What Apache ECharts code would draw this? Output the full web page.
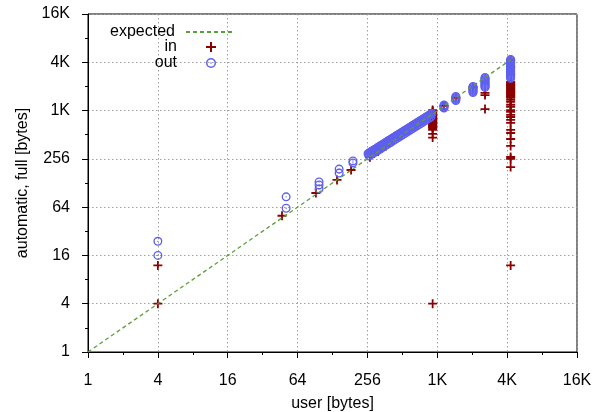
<!DOCTYPE html>
<html>
<head>
<meta charset="utf-8">
<script src="https://cdn.jsdelivr.net/npm/echarts@6/dist/echarts.min.js"></script>
<style>html,body{margin:0;padding:0;background:#fff;}#chart{width:600px;height:412px;}</style>
</head>
<body>
<div id="chart"></div>
<script>
const tickLabels = ['1', '4', '16', '64', '256', '1K', '4K', '16K'];
const expectedLine = [[1, 1], [4390, 4390]];
const inPoints = [
  [4, 4], [4, 12], [47, 50], [92, 96], [140, 140], [185, 186],
  [269, 269], [316, 316], [370, 370], [434, 434], [508, 508], [596, 596], [698, 698], [819, 819],
  [934, 1040], [934, 1011], [934, 982], [934, 954], [934, 927], [934, 901], [934, 876], [934, 851],
  [934, 827], [934, 804], [934, 781], [934, 759], [934, 738], [934, 717], [934, 697], [934, 677],
  [934, 658], [934, 639], [934, 621], [934, 587], [934, 523], [934, 472], [934, 4],
  [1170, 1170], [1480, 1480], [2080, 2000],
  [2640, 1700], [2640, 1600], [2640, 1070],
  [4390, 4390], [4390, 3600], [4390, 2900],
  [4390, 2330], [4390, 2264], [4390, 2200], [4390, 2138], [4390, 2077], [4390, 2019], [4390, 1962],
  [4390, 1906], [4390, 1852], [4390, 1800], [4390, 1749], [4390, 1700], [4390, 1652], [4390, 1605],
  [4390, 1560], [4390, 1516], [4390, 1473], [4390, 1390], [4390, 1311], [4390, 1210], [4390, 1136],
  [4390, 1040], [4390, 984], [4390, 903], [4390, 851], [4390, 782], [4390, 718], [4390, 587],
  [4390, 538], [4390, 453], [4390, 371], [4390, 270], [4390, 256], [4390, 202], [4390, 12]
];
const outPoints = [
  [4, 24], [4, 16], [51, 62], [51, 86],
  [98, 108], [98, 121], [98, 132], [146, 170], [146, 191], [192, 228], [192, 241],
  [259, 297], [264, 302], [270, 308], [275, 314], [280, 319], [286, 325], [292, 331], [298, 337],
  [304, 343], [310, 349], [316, 356], [322, 362], [329, 369], [335, 375], [342, 382], [349, 389],
  [356, 396], [363, 403], [370, 411], [377, 418], [385, 426], [393, 434], [400, 441], [408, 449],
  [417, 458], [425, 466], [433, 474], [442, 483], [451, 492], [460, 501], [469, 510], [479, 519],
  [488, 529], [498, 538], [508, 548], [518, 558], [528, 568], [539, 578], [550, 589], [561, 600],
  [572, 610], [583, 622], [595, 633], [607, 644], [619, 656], [631, 668], [644, 680], [657, 692],
  [670, 705], [684, 718], [697, 731], [711, 744], [725, 758], [740, 771], [755, 785], [770, 800],
  [785, 814], [801, 829], [817, 844], [833, 859], [850, 875], [867, 891], [884, 907], [902, 924], [920, 940],
  [264, 278], [275, 289], [286, 299], [298, 310], [310, 321], [322, 333], [335, 345], [349, 358],
  [363, 371], [377, 385], [393, 399], [408, 413], [425, 429], [442, 444], [460, 461], [479, 478],
  [498, 495], [518, 513], [539, 532], [561, 552], [583, 572], [607, 592], [631, 615], [657, 637],
  [684, 661], [711, 684], [740, 709], [770, 736], [801, 763], [833, 790], [867, 820], [902, 850],
  [1170, 1200], [1170, 1168], [1170, 1135], [1170, 1104],
  [1480, 1535], [1480, 1491], [1480, 1449], [1480, 1408], [1480, 1368],
  [2080, 2045], [2080, 1987], [2080, 1931], [2080, 1876], [2080, 1823], [2080, 1771], [2080, 1721],
  [2640, 2652], [2640, 2577], [2640, 2504], [2640, 2433], [2640, 2364], [2640, 2297], [2640, 2232],
  [2640, 2169], [2640, 2108], [2640, 2048], [2640, 1990],
  [4390, 4445], [4390, 4319], [4390, 4197], [4390, 4078], [4390, 3963], [4390, 3850], [4390, 3741],
  [4390, 3636], [4390, 3533], [4390, 3433], [4390, 3336], [4390, 3241], [4390, 3149], [4390, 3060],
  [4390, 2974], [4390, 2890], [4390, 2808], [4390, 2728], [4390, 2651], [4390, 2576]
];

const FONT = 'Liberation Sans';
const plusPath = 'path://M4,0H6V4H10V6H6V10H4V6H0V4H4Z';
const ringPath = 'path://M10,0A10,10,0,1,1,10,20A10,10,0,1,1,10,0ZM10,3A7,7,0,1,0,10,17A7,7,0,1,0,10,3ZM10,8.5A1.5,1.5,0,1,1,10,11.5A1.5,1.5,0,1,1,10,8.5Z';
const RED = '#8b0000', BLUE = '#5f5fef', GREEN = '#5b9f3a';

function fmt(v) {
  const i = Math.round(Math.log(v) / Math.log(4));
  return tickLabels[i] !== undefined ? tickLabels[i] : '';
}
function mkLegend(item, top, right, w, pad) {
  return {
    data: [item], right: right, top: top, orient: 'vertical', align: 'right', padding: 0,
    itemWidth: w, itemHeight: 10, selectedMode: false,
    textStyle: { fontFamily: FONT, fontSize: 16, color: '#000', padding: [0, pad, 0, 0] }
  };
}
const gridLine = { show: true, lineStyle: { color: '#a0a0a0', type: [1.5, 2.5], width: 1 } };
const chart = echarts.init(document.getElementById('chart'), null, { renderer: 'canvas' });
chart.setOption({
  animation: false,
  backgroundColor: '#fff',
  textStyle: { fontFamily: FONT },
  grid: { left: 88, right: 23, top: 14, bottom: 60, containLabel: false, outerBoundsMode: 'none',
    show: true, borderColor: '#000', borderWidth: 1, backgroundColor: 'transparent' },
  legend: [
    mkLegend({ name: 'expected', itemStyle: { opacity: 0 } }, 24, 367, 46, 6),
    mkLegend('in', 39, 384, 10, 24),
    mkLegend('out', 55, 384, 10, 24)
  ],
  xAxis: [{
    type: 'log', logBase: 4, min: 1, max: 16384,
    name: 'user [bytes]', nameLocation: 'middle', nameGap: 44,
    nameTextStyle: { fontFamily: FONT, fontSize: 16, color: '#000' },
    axisLine: { lineStyle: { color: '#000', width: 1 } },
    axisTick: { show: true, inside: false, length: 6, lineStyle: { color: '#000' } },
    axisLabel: { formatter: fmt, fontFamily: FONT, fontSize: 16, color: '#000', margin: 21 },
    splitLine: gridLine, minorTick: { show: false }
  }, {
    type: 'value', min: 0, max: 14, interval: 1, position: 'bottom',
    axisLine: { show: false }, axisLabel: { show: false }, splitLine: { show: false },
    axisTick: { show: true, length: 3, lineStyle: { color: '#000' } }
  }],
  yAxis: [{
    type: 'log', logBase: 4, min: 1, max: 16384,
    name: 'automatic, full [bytes]', nameLocation: 'middle', nameGap: 50,
    nameTextStyle: { fontFamily: FONT, fontSize: 16, color: '#000' },
    axisLine: { lineStyle: { color: '#000', width: 1 } },
    axisTick: { show: true, inside: false, length: 6, lineStyle: { color: '#000' } },
    axisLabel: { formatter: fmt, fontFamily: FONT, fontSize: 16, color: '#000', margin: 18 },
    splitLine: gridLine, minorTick: { show: false }
  }, {
    type: 'value', min: 0, max: 14, interval: 1, position: 'left',
    axisLine: { show: false }, axisLabel: { show: false }, splitLine: { show: false },
    axisTick: { show: true, length: 3, lineStyle: { color: '#000' } }
  }],
  series: [
    { name: 'expected', type: 'line', data: expectedLine, symbol: 'none', silent: true,
      lineStyle: { color: GREEN, width: 1.3, type: [4, 3] }, itemStyle: { color: GREEN } },
    { name: 'in', type: 'scatter', data: inPoints, symbol: plusPath, symbolSize: 9,
      itemStyle: { color: RED, opacity: 1 } },
    { name: 'out', type: 'scatter', data: outPoints, symbol: ringPath, symbolSize: 9,
      itemStyle: { color: BLUE, opacity: 1 } }
  ]
});
</script>
</body>
</html>
